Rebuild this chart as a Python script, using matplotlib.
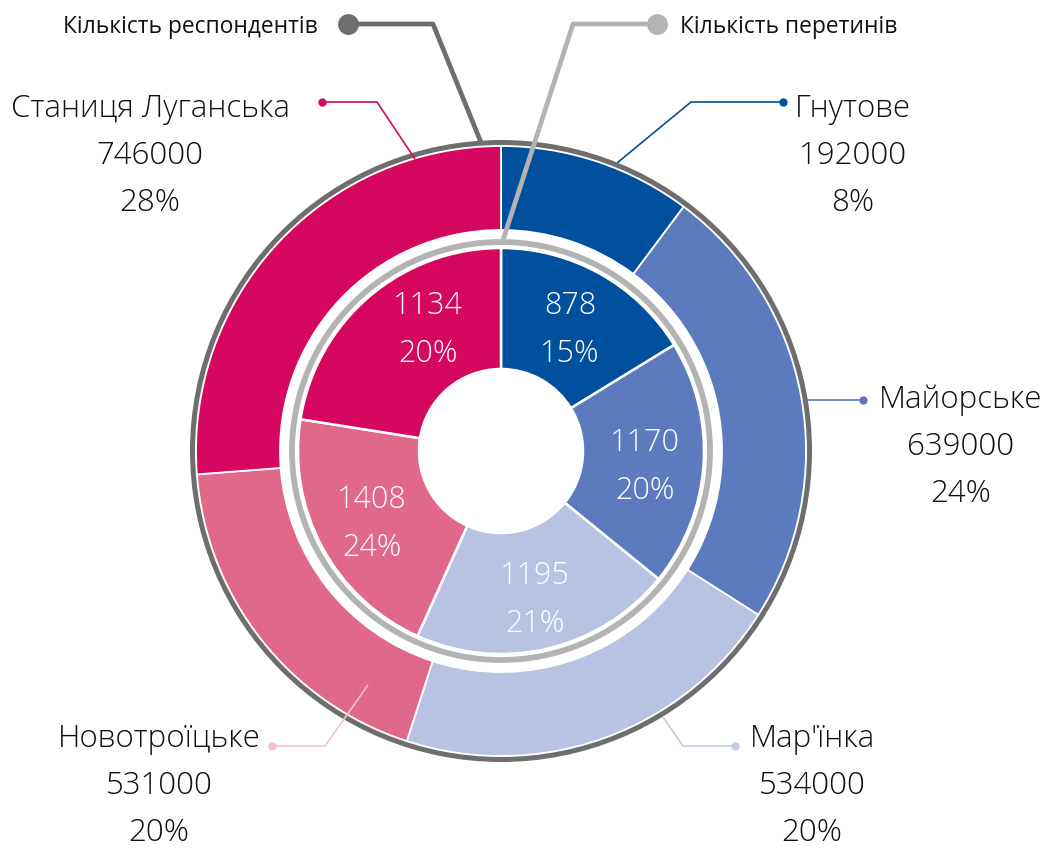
import matplotlib
matplotlib.use("Agg")
import matplotlib.pyplot as plt
from matplotlib.patches import Circle

plt.rcParams["font.family"] = ["Open Sans", "DejaVu Sans"]

# outer ring - crossings
places = ["Гнутове", "Майорське", "Мар'їнка", "Новотроїцьке", "Станиця Луганська"]
crossings = [192000, 639000, 534000, 531000, 746000]
crossings_pct = ["8%", "24%", "20%", "20%", "28%"]
outer_share = [36.8, 85.7, 75.5, 67.6, 94.4]   # slice sizes as drawn (degrees)

# inner ring - respondents
respondents = [878, 1170, 1195, 1408, 1134]
respondents_pct = ["15%", "20%", "21%", "24%", "20%"]
inner_share = [58.5, 70.6, 75.2, 74.7, 81.0]

colors = ["#00509E", "#5B7BBE", "#B8C3E4", "#E0698B", "#D5075F"]
leader_colors = ["#00509E", "#5B7BBE", "#C2CAE8", "#F2C3CF", "#D5075F"]

W, H = 1050, 853
def Y(y):
    return H - y

fig = plt.figure(figsize=(10.5, 8.53), dpi=100)
ax = fig.add_axes([0, 0, 1, 1])
cx, cy = 501, Y(452)

ax.pie(outer_share, radius=305, center=(cx, cy), startangle=90, counterclock=False,
       colors=colors, wedgeprops=dict(width=305 - 221, edgecolor="white", linewidth=1.3))
ax.pie(inner_share, radius=203, center=(cx, cy), startangle=90, counterclock=False,
       colors=colors, wedgeprops=dict(width=203 - 82, edgecolor="white", linewidth=1.8))
ax.add_patch(Circle((cx, cy), 308.5, fill=False, ec="#6E6E6E", lw=3.6))
ax.add_patch(Circle((cx, cy), 209, fill=False, ec="#B3B3B3", lw=4.2))

# outer labels: text x, first baseline, leader path (dot first)
lab_x = [853, 961, 812, 159, 150]
lab_base = [117, 408, 747, 747, 117]
leaders = [
    [(783, 103), (691, 103), (617, 164)],
    [(863, 401), (806, 401)],
    [(735, 747), (683, 747), (663, 718)],
    [(272, 747), (325, 747), (368, 686)],
    [(322, 103), (377, 103), (415, 160)],
]
for i in range(5):
    lines = [places[i], str(crossings[i]), crossings_pct[i]]
    for k, s in enumerate(lines):
        ax.text(lab_x[i], Y(lab_base[i] + 47 * k), s, ha="center", va="baseline",
                fontsize=22.5, fontweight="light", color="#111111")
    xs = [p[0] for p in leaders[i]]
    ys = [Y(p[1]) for p in leaders[i]]
    ax.plot(xs, ys, color=leader_colors[i], lw=1.2, solid_capstyle="butt")
    ax.plot(xs[0], ys[0], "o", color=leader_colors[i], ms=6, mec="none")

# inner labels
in_x = [570, 645, 535, 372, 428]
in_y = [314, 451, 584, 508, 314]
for i in range(5):
    ax.text(in_x[i], Y(in_y[i]), str(respondents[i]), ha="center", va="baseline",
            fontsize=22, fontweight="light", color="white")
    ax.text(in_x[i], Y(in_y[i] + 48), respondents_pct[i], ha="center", va="baseline",
            fontsize=22, fontweight="light", color="white")

# series callouts
ax.plot([348, 433, 480], [Y(25), Y(25), Y(141)], color="#6E6E6E", lw=3.4)
ax.plot(348, Y(25), "o", color="#6E6E6E", ms=15, mec="none")
ax.text(318, Y(33), "Кількість респондентів", ha="right", va="baseline",
        fontsize=16.4, color="#111111")
ax.plot([657, 573, 504], [Y(25), Y(25), Y(238)], color="#B3B3B3", lw=3.4)
ax.plot(657, Y(25), "o", color="#B3B3B3", ms=15, mec="none")
ax.text(680, Y(33), "Кількість перетинів", ha="left", va="baseline",
        fontsize=16.4, color="#111111")

ax.set_xlim(0, W)
ax.set_ylim(0, H)
ax.set_aspect("equal")
ax.axis("off")

fig.savefig("out.png", dpi=100, facecolor="white")
